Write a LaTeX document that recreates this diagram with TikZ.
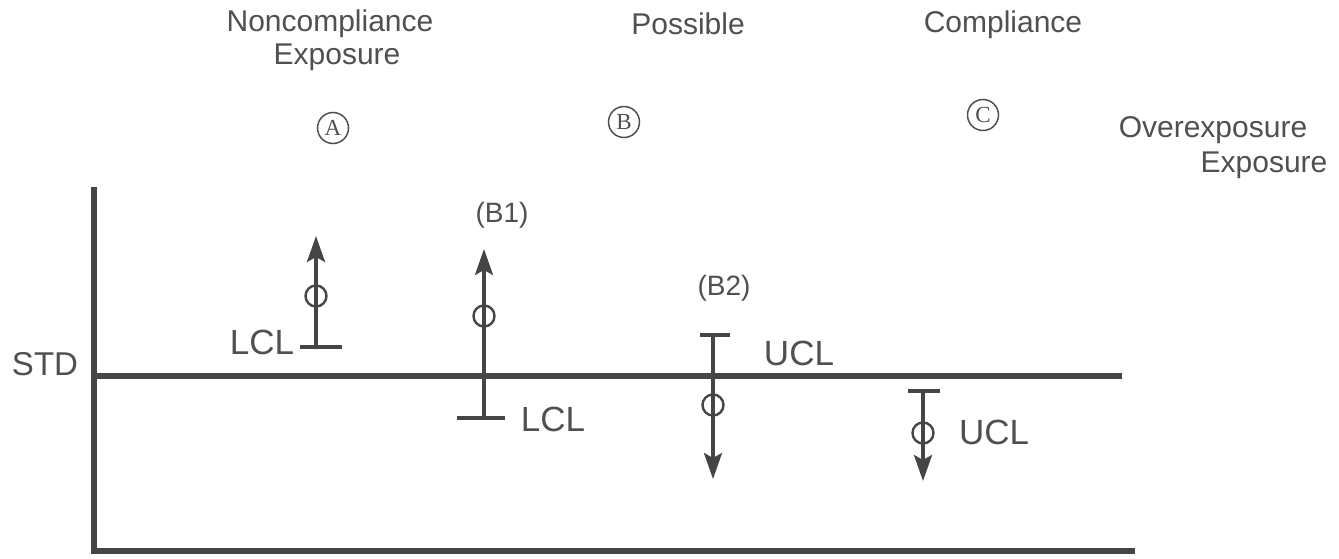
\documentclass[tikz,border=0pt]{standalone}
\usepackage{fontspec}
\setmainfont{Liberation Sans}
\newfontfamily\seriffont{Liberation Serif}
\usetikzlibrary{arrows.meta}
\definecolor{ink}{HTML}{454545}
\definecolor{txt}{HTML}{505050}
\begin{document}
\begin{tikzpicture}[x=1pt,y=-1pt,
  axis/.style={draw=ink,line width=5.5pt},
  bar/.style={draw=ink,line width=3.2pt},
  arr/.style={bar,-{Stealth[length=26pt,width=18pt,inset=5pt]}},
  pt/.style={circle,draw=ink,line width=2.4pt,minimum size=21pt,inner sep=0pt},
  toplbl/.style={text=txt,font=\fontsize{30}{33}\selectfont,inner sep=0pt,align=center},
  lbl/.style={text=txt,font=\fontsize{35}{37}\selectfont,inner sep=0pt},
  small/.style={text=txt,font=\fontsize{28}{30}\selectfont,inner sep=0pt},
  circ/.style={circle,draw=txt,line width=1.5pt,inner sep=0pt,minimum size=31pt,text=txt,font=\seriffont\fontsize{23}{23}\selectfont}
]
\useasboundingbox (0,0) rectangle (1339,559);
\fill[white] (0,0) rectangle (1339,559);

% axes
\coordinate (yt) at (94,187);
\coordinate (o) at (94,551);
\coordinate (xe) at (1135,551);
\coordinate (s0) at (94,376);
\coordinate (s1) at (1122,376);
\draw[axis] (yt) -- (o) -- (xe);
\draw[axis] (s0) -- (s1);
\node[lbl,font=\fontsize{33}{35}\selectfont] (std) at (45,364) {STD};

% top labels
\node[toplbl] (nc) at (330,24) {Noncompliance};
\node[toplbl] (ncx) at (337,57) {Exposure};
\node[toplbl] (pos) at (688,24) {Possible};
\node[toplbl] (comp) at (1003,25) {Compliance};
\node[toplbl] (ovr) at (1213,130) {Overexposure};
\node[toplbl] (ovx) at (1264,165) {Exposure};
\node[circ] (ca) at (333,128) {A};
\node[circ] (cb) at (624,122) {B};
\node[circ] (cc) at (983,115) {C};

% A
\coordinate (a0) at (316,347);
\coordinate (a1) at (316,236);
\coordinate (al) at (300,347);
\coordinate (ar) at (342,347);
\draw[bar] (al) -- (ar);
\draw[arr] (a0) -- (a1);
\node[pt] (ap) at (316,296) {};
\node[lbl] (alcl) at (262,342) {LCL};

% B1
\coordinate (b0) at (484,418);
\coordinate (b1) at (484,249);
\coordinate (bl) at (457,418);
\coordinate (br) at (505,418);
\draw[bar] (bl) -- (br);
\draw[arr] (b0) -- (b1);
\node[pt] (bp) at (484,316) {};
\node[lbl] (blcl) at (553,419) {LCL};
\node[small] (bname) at (502,215) {(B1)};

% B2
\coordinate (c0) at (713,335);
\coordinate (c1) at (713,479);
\coordinate (cl) at (700,335);
\coordinate (cr) at (730,335);
\draw[bar] (cl) -- (cr);
\draw[arr] (c0) -- (c1);
\node[pt] (cp) at (713,405) {};
\node[lbl] (cucl) at (799,353) {UCL};
\node[small] (cname) at (724,288) {(B2)};

% C
\coordinate (d0) at (923,391);
\coordinate (d1) at (923,481);
\coordinate (dl) at (908,391);
\coordinate (dr) at (940,391);
\draw[bar] (dl) -- (dr);
\draw[arr] (d0) -- (d1);
\node[pt] (dp) at (923,433) {};
\node[lbl] (ducl) at (994,432) {UCL};
\end{tikzpicture}
\end{document}
